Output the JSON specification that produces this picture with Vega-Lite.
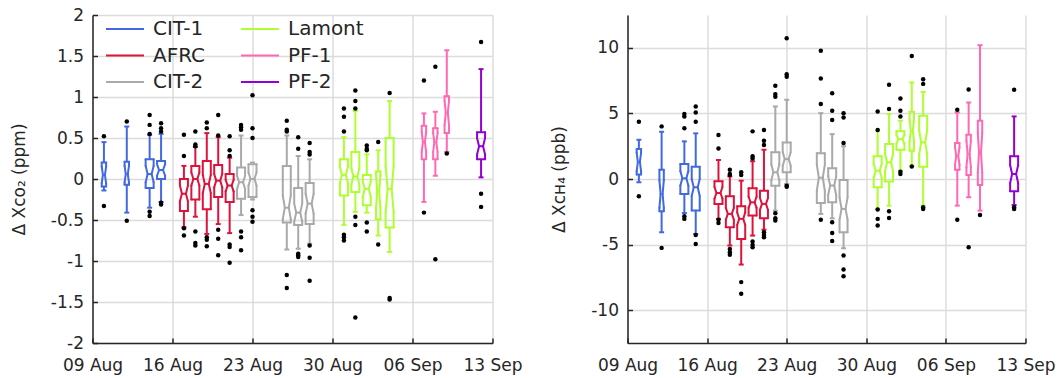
{
"$schema": "https://vega.github.io/schema/vega-lite/v6.json",
"padding": {"left": 9.5, "top": 6, "right": 5, "bottom": 4},
"spacing": 28,
"background": "white",
"config": {
  "view": {"stroke": null},
  "font": "DejaVu Sans",
  "axis": {"labelFont": "DejaVu Sans", "labelFontSize": 17, "labelColor": "#262626", "titleFont": "DejaVu Sans", "titleFontSize": 17, "titleFontWeight": "normal", "titleColor": "#262626", "domainColor": "#262626", "domainWidth": 1.5, "tickColor": "#262626", "tickSize": -5, "tickWidth": 1.5, "grid": true, "gridColor": "#dcdcdc", "gridWidth": 1.5},
  "axisX": {"labelPadding": 19},
  "axisY": {"labelPadding": 14, "titlePadding": 22},
  "rule": {"strokeWidth": 2}
},
"datasets": {
  "co2": [
    {"date":"2019-08-10T00:00","site":"CIT-1","n":14,"wlo":-0.14,"q1":-0.09,"nlo":-0.05,"med":0.05,"nhi":0.15,"q3":0.2,"whi":0.45},
    {"date":"2019-08-12T00:00","site":"CIT-1","n":16,"wlo":-0.41,"q1":-0.07,"nlo":-0.04,"med":0.06,"nhi":0.16,"q3":0.21,"whi":0.64},
    {"date":"2019-08-14T00:00","site":"CIT-1","n":60,"wlo":-0.35,"q1":-0.11,"nlo":-0.04,"med":0.06,"nhi":0.16,"q3":0.24,"whi":0.54},
    {"date":"2019-08-15T00:00","site":"CIT-1","n":55,"wlo":-0.28,"q1":0.0,"nlo":0.04,"med":0.11,"nhi":0.18,"q3":0.22,"whi":0.55},
    {"date":"2019-08-17T00:00","site":"AFRC","n":48,"wlo":-0.59,"q1":-0.39,"nlo":-0.27,"med":-0.18,"nhi":-0.08,"q3":0.0,"whi":0.16},
    {"date":"2019-08-18T00:00","site":"AFRC","n":70,"wlo":-0.46,"q1":-0.25,"nlo":-0.08,"med":0.0,"nhi":0.08,"q3":0.16,"whi":0.39},
    {"date":"2019-08-19T00:00","site":"AFRC","n":75,"wlo":-0.67,"q1":-0.37,"nlo":-0.17,"med":-0.06,"nhi":0.05,"q3":0.22,"whi":0.56},
    {"date":"2019-08-20T00:00","site":"AFRC","n":65,"wlo":-0.55,"q1":-0.22,"nlo":-0.1,"med":-0.02,"nhi":0.06,"q3":0.17,"whi":0.51},
    {"date":"2019-08-21T00:00","site":"AFRC","n":60,"wlo":-0.66,"q1":-0.28,"nlo":-0.15,"med":-0.08,"nhi":-0.01,"q3":0.06,"whi":0.26},
    {"date":"2019-08-22T00:00","site":"CIT-2","n":58,"wlo":-0.44,"q1":-0.24,"nlo":-0.12,"med":-0.04,"nhi":0.04,"q3":0.14,"whi":0.53},
    {"date":"2019-08-23T00:00","site":"CIT-2","n":62,"wlo":-0.25,"q1":-0.22,"nlo":-0.08,"med":0.0,"nhi":0.08,"q3":0.18,"whi":0.2},
    {"date":"2019-08-26T00:00","site":"CIT-2","n":66,"wlo":-0.86,"q1":-0.53,"nlo":-0.49,"med":-0.35,"nhi":-0.2,"q3":0.16,"whi":0.53},
    {"date":"2019-08-27T00:00","site":"CIT-2","n":52,"wlo":-0.85,"q1":-0.56,"nlo":-0.52,"med":-0.41,"nhi":-0.3,"q3":-0.11,"whi":0.28},
    {"date":"2019-08-28T00:00","site":"CIT-2","n":54,"wlo":-0.79,"q1":-0.55,"nlo":-0.42,"med":-0.3,"nhi":-0.18,"q3":-0.05,"whi":0.24},
    {"date":"2019-08-31T00:00","site":"Lamont","n":70,"wlo":-0.56,"q1":-0.2,"nlo":-0.05,"med":0.05,"nhi":0.15,"q3":0.24,"whi":0.51},
    {"date":"2019-09-01T00:00","site":"Lamont","n":72,"wlo":-0.4,"q1":-0.16,"nlo":-0.07,"med":0.03,"nhi":0.13,"q3":0.33,"whi":0.83},
    {"date":"2019-09-02T00:00","site":"Lamont","n":58,"wlo":-0.41,"q1":-0.32,"nlo":-0.22,"med":-0.12,"nhi":-0.03,"q3":0.05,"whi":0.3},
    {"date":"2019-09-03T00:00","site":"Lamont","n":18,"wlo":-0.69,"q1":-0.49,"nlo":-0.35,"med":-0.15,"nhi":0.05,"q3":0.09,"whi":0.35},
    {"date":"2019-09-04T00:00","site":"Lamont","n":40,"wlo":-0.89,"q1":-0.59,"nlo":-0.4,"med":-0.12,"nhi":0.15,"q3":0.5,"whi":0.95},
    {"date":"2019-09-07T00:00","site":"PF-1","n":20,"wlo":-0.28,"q1":0.24,"nlo":0.33,"med":0.45,"nhi":0.57,"q3":0.65,"whi":0.8},
    {"date":"2019-09-08T00:00","site":"PF-1","n":20,"wlo":0.04,"q1":0.24,"nlo":0.33,"med":0.45,"nhi":0.56,"q3":0.62,"whi":0.82},
    {"date":"2019-09-09T00:00","site":"PF-1","n":22,"wlo":0.33,"q1":0.56,"nlo":0.66,"med":0.81,"nhi":0.95,"q3":1.01,"whi":1.57},
    {"date":"2019-09-12T00:00","site":"PF-2","n":45,"wlo":0.02,"q1":0.24,"nlo":0.3,"med":0.4,"nhi":0.5,"q3":0.57,"whi":1.34}
  ],
  "co2_out": [
    {"date":"2019-08-10T00:00","value":0.52},{"date":"2019-08-10T00:00","value":-0.33},
    {"date":"2019-08-12T00:00","value":0.7},{"date":"2019-08-12T00:00","value":-0.51},
    {"date":"2019-08-14T00:00","value":0.78},{"date":"2019-08-14T00:00","value":0.66},{"date":"2019-08-14T00:00","value":0.55},{"date":"2019-08-14T00:00","value":-0.4},{"date":"2019-08-14T00:00","value":-0.45},
    {"date":"2019-08-15T00:00","value":0.68},{"date":"2019-08-15T00:00","value":0.62},{"date":"2019-08-15T00:00","value":0.58},{"date":"2019-08-15T00:00","value":-0.29},{"date":"2019-08-15T00:00","value":-0.31},
    {"date":"2019-08-17T00:00","value":0.54},{"date":"2019-08-17T00:00","value":0.28},{"date":"2019-08-17T00:00","value":-0.6},{"date":"2019-08-17T00:00","value":-0.69},
    {"date":"2019-08-18T00:00","value":0.58},{"date":"2019-08-18T00:00","value":0.42},{"date":"2019-08-18T00:00","value":0.4},{"date":"2019-08-18T00:00","value":-0.64},{"date":"2019-08-18T00:00","value":-0.78},{"date":"2019-08-18T00:00","value":-0.81},
    {"date":"2019-08-19T00:00","value":0.69},{"date":"2019-08-19T00:00","value":0.62},{"date":"2019-08-19T00:00","value":-0.71},{"date":"2019-08-19T00:00","value":-0.74},{"date":"2019-08-19T00:00","value":-0.82},
    {"date":"2019-08-20T00:00","value":0.78},{"date":"2019-08-20T00:00","value":0.53},{"date":"2019-08-20T00:00","value":-0.62},{"date":"2019-08-20T00:00","value":-0.73},{"date":"2019-08-20T00:00","value":-0.93},
    {"date":"2019-08-21T00:00","value":0.52},{"date":"2019-08-21T00:00","value":0.35},{"date":"2019-08-21T00:00","value":0.28},{"date":"2019-08-21T00:00","value":-0.8},{"date":"2019-08-21T00:00","value":-0.83},{"date":"2019-08-21T00:00","value":-1.02},
    {"date":"2019-08-22T00:00","value":0.66},{"date":"2019-08-22T00:00","value":0.63},{"date":"2019-08-22T00:00","value":0.6},{"date":"2019-08-22T00:00","value":-0.64},{"date":"2019-08-22T00:00","value":-0.71},{"date":"2019-08-22T00:00","value":-0.87},
    {"date":"2019-08-23T00:00","value":1.02},{"date":"2019-08-23T00:00","value":0.62},{"date":"2019-08-23T00:00","value":0.5},{"date":"2019-08-23T00:00","value":-0.38},{"date":"2019-08-23T00:00","value":-0.46},{"date":"2019-08-23T00:00","value":-0.52},
    {"date":"2019-08-26T00:00","value":0.71},{"date":"2019-08-26T00:00","value":0.6},{"date":"2019-08-26T00:00","value":0.58},{"date":"2019-08-26T00:00","value":-1.17},{"date":"2019-08-26T00:00","value":-1.33},
    {"date":"2019-08-27T00:00","value":0.51},{"date":"2019-08-27T00:00","value":0.37},{"date":"2019-08-27T00:00","value":-0.91},{"date":"2019-08-27T00:00","value":-0.93},{"date":"2019-08-27T00:00","value":-0.95},
    {"date":"2019-08-28T00:00","value":0.44},{"date":"2019-08-28T00:00","value":0.33},{"date":"2019-08-28T00:00","value":0.3},{"date":"2019-08-28T00:00","value":-0.81},{"date":"2019-08-28T00:00","value":-0.96},{"date":"2019-08-28T00:00","value":-1.24},
    {"date":"2019-08-31T00:00","value":0.86},{"date":"2019-08-31T00:00","value":0.76},{"date":"2019-08-31T00:00","value":0.58},{"date":"2019-08-31T00:00","value":-0.68},{"date":"2019-08-31T00:00","value":-0.71},{"date":"2019-08-31T00:00","value":-0.75},
    {"date":"2019-09-01T00:00","value":1.08},{"date":"2019-09-01T00:00","value":0.95},{"date":"2019-09-01T00:00","value":0.86},{"date":"2019-09-01T00:00","value":-0.46},{"date":"2019-09-01T00:00","value":-0.56},{"date":"2019-09-01T00:00","value":-1.69},
    {"date":"2019-09-02T00:00","value":0.41},{"date":"2019-09-02T00:00","value":0.37},{"date":"2019-09-02T00:00","value":0.35},{"date":"2019-09-02T00:00","value":-0.53},{"date":"2019-09-02T00:00","value":-0.64},
    {"date":"2019-09-03T00:00","value":0.45},{"date":"2019-09-03T00:00","value":-0.8},
    {"date":"2019-09-04T00:00","value":1.05},{"date":"2019-09-04T00:00","value":-1.45},{"date":"2019-09-04T00:00","value":-1.47},
    {"date":"2019-09-07T00:00","value":1.2},{"date":"2019-09-07T00:00","value":-0.41},
    {"date":"2019-09-08T00:00","value":1.37},{"date":"2019-09-08T00:00","value":-0.98},
    {"date":"2019-09-09T00:00","value":0.31},
    {"date":"2019-09-12T00:00","value":1.67},{"date":"2019-09-12T00:00","value":-0.18},{"date":"2019-09-12T00:00","value":-0.34}
  ],
  "ch4": [
    {"date":"2019-08-10T00:00","site":"CIT-1","n":14,"wlo":-0.25,"q1":0.35,"nlo":0.6,"med":1.3,"nhi":2.0,"q3":2.28,"whi":2.99},
    {"date":"2019-08-12T00:00","site":"CIT-1","n":16,"wlo":-4.06,"q1":-2.46,"nlo":-2.2,"med":-1.14,"nhi":-0.1,"q3":0.71,"whi":3.6},
    {"date":"2019-08-14T00:00","site":"CIT-1","n":60,"wlo":-2.59,"q1":-1.14,"nlo":-0.5,"med":0.05,"nhi":0.6,"q3":1.14,"whi":2.87},
    {"date":"2019-08-15T00:00","site":"CIT-1","n":55,"wlo":-4.19,"q1":-2.41,"nlo":-1.3,"med":-0.63,"nhi":0.0,"q3":0.94,"whi":3.48},
    {"date":"2019-08-17T00:00","site":"AFRC","n":48,"wlo":-3.04,"q1":-1.9,"nlo":-1.5,"med":-1.07,"nhi":-0.6,"q3":-0.18,"whi":1.45},
    {"date":"2019-08-18T00:00","site":"AFRC","n":70,"wlo":-5.07,"q1":-3.68,"nlo":-3.1,"med":-2.66,"nhi":-2.2,"q3":-1.32,"whi":0.2},
    {"date":"2019-08-19T00:00","site":"AFRC","n":75,"wlo":-6.52,"q1":-4.57,"nlo":-3.5,"med":-3.04,"nhi":-2.55,"q3":-2.08,"whi":-0.13},
    {"date":"2019-08-20T00:00","site":"AFRC","n":65,"wlo":-4.31,"q1":-2.79,"nlo":-2.2,"med":-1.78,"nhi":-1.35,"q3":-0.71,"whi":1.35},
    {"date":"2019-08-21T00:00","site":"AFRC","n":60,"wlo":-3.86,"q1":-2.99,"nlo":-2.35,"med":-1.9,"nhi":-1.45,"q3":-0.89,"whi":2.23},
    {"date":"2019-08-22T00:00","site":"CIT-2","n":58,"wlo":-2.41,"q1":-0.51,"nlo":-0.1,"med":0.51,"nhi":1.1,"q3":2.03,"whi":5.53},
    {"date":"2019-08-23T00:00","site":"CIT-2","n":62,"wlo":-0.38,"q1":0.51,"nlo":1.0,"med":1.52,"nhi":2.05,"q3":2.79,"whi":6.04},
    {"date":"2019-08-26T00:00","site":"CIT-2","n":66,"wlo":-2.66,"q1":-1.83,"nlo":-0.9,"med":0.1,"nhi":1.1,"q3":1.96,"whi":5.02},
    {"date":"2019-08-27T00:00","site":"CIT-2","n":52,"wlo":-3.0,"q1":-1.78,"nlo":-1.2,"med":-0.5,"nhi":0.2,"q3":0.81,"whi":3.42},
    {"date":"2019-08-28T00:00","site":"CIT-2","n":54,"wlo":-5.28,"q1":-4.06,"nlo":-3.1,"med":-2.28,"nhi":-1.4,"q3":-0.08,"whi":2.5},
    {"date":"2019-08-31T00:00","site":"Lamont","n":70,"wlo":-2.28,"q1":-0.63,"nlo":0.1,"med":0.63,"nhi":1.15,"q3":1.73,"whi":3.68},
    {"date":"2019-09-01T00:00","site":"Lamont","n":72,"wlo":-2.03,"q1":-0.2,"nlo":0.6,"med":1.27,"nhi":1.9,"q3":2.66,"whi":4.95},
    {"date":"2019-09-02T00:00","site":"Lamont","n":58,"wlo":0.63,"q1":2.23,"nlo":2.7,"med":3.04,"nhi":3.35,"q3":3.63,"whi":4.44},
    {"date":"2019-09-03T00:00","site":"Lamont","n":18,"wlo":1.01,"q1":2.15,"nlo":2.9,"med":3.68,"nhi":4.5,"q3":5.12,"whi":7.36},
    {"date":"2019-09-04T00:00","site":"Lamont","n":40,"wlo":-2.03,"q1":0.94,"nlo":1.9,"med":2.79,"nhi":3.7,"q3":4.82,"whi":6.64},
    {"date":"2019-09-07T00:00","site":"PF-1","n":20,"wlo":-2.03,"q1":0.71,"nlo":1.1,"med":1.77,"nhi":2.4,"q3":2.74,"whi":5.07},
    {"date":"2019-09-08T00:00","site":"PF-1","n":20,"wlo":-1.39,"q1":0.3,"nlo":0.9,"med":1.9,"nhi":2.9,"q3":3.37,"whi":5.83},
    {"date":"2019-09-09T00:00","site":"PF-1","n":22,"wlo":-2.41,"q1":-0.46,"nlo":0.5,"med":2.03,"nhi":3.5,"q3":4.44,"whi":10.2},
    {"date":"2019-09-12T00:00","site":"PF-2","n":45,"wlo":-1.98,"q1":-0.94,"nlo":-0.3,"med":0.38,"nhi":1.05,"q3":1.73,"whi":4.77}
  ],
  "ch4_out": [
    {"date":"2019-08-10T00:00","value":4.36},{"date":"2019-08-10T00:00","value":-1.32},
    {"date":"2019-08-12T00:00","value":4.01},{"date":"2019-08-12T00:00","value":-5.25},
    {"date":"2019-08-14T00:00","value":4.95},{"date":"2019-08-14T00:00","value":4.77},{"date":"2019-08-14T00:00","value":3.86},{"date":"2019-08-14T00:00","value":-2.84},{"date":"2019-08-14T00:00","value":-3.04},
    {"date":"2019-08-15T00:00","value":5.53},{"date":"2019-08-15T00:00","value":5.07},{"date":"2019-08-15T00:00","value":4.36},{"date":"2019-08-15T00:00","value":-4.26},{"date":"2019-08-15T00:00","value":-4.95},
    {"date":"2019-08-17T00:00","value":3.35},{"date":"2019-08-17T00:00","value":2.33},{"date":"2019-08-17T00:00","value":-3.1},{"date":"2019-08-17T00:00","value":-3.35},
    {"date":"2019-08-18T00:00","value":0.71},{"date":"2019-08-18T00:00","value":0.38},{"date":"2019-08-18T00:00","value":0.3},{"date":"2019-08-18T00:00","value":-5.33},{"date":"2019-08-18T00:00","value":-5.58},{"date":"2019-08-18T00:00","value":-5.78},
    {"date":"2019-08-19T00:00","value":0.51},{"date":"2019-08-19T00:00","value":0.3},{"date":"2019-08-19T00:00","value":-7.86},{"date":"2019-08-19T00:00","value":-8.75},
    {"date":"2019-08-20T00:00","value":3.63},{"date":"2019-08-20T00:00","value":1.73},{"date":"2019-08-20T00:00","value":1.57},{"date":"2019-08-20T00:00","value":-4.77},{"date":"2019-08-20T00:00","value":-5.02},{"date":"2019-08-20T00:00","value":-5.2},
    {"date":"2019-08-21T00:00","value":3.73},{"date":"2019-08-21T00:00","value":2.92},{"date":"2019-08-21T00:00","value":2.59},{"date":"2019-08-21T00:00","value":-4.06},{"date":"2019-08-21T00:00","value":-4.26},{"date":"2019-08-21T00:00","value":-4.44},
    {"date":"2019-08-22T00:00","value":7.1},{"date":"2019-08-22T00:00","value":6.47},{"date":"2019-08-22T00:00","value":6.27},{"date":"2019-08-22T00:00","value":-2.61},{"date":"2019-08-22T00:00","value":-2.99},{"date":"2019-08-22T00:00","value":-3.17},
    {"date":"2019-08-23T00:00","value":10.73},{"date":"2019-08-23T00:00","value":7.99},{"date":"2019-08-23T00:00","value":7.79},{"date":"2019-08-23T00:00","value":-0.51},{"date":"2019-08-23T00:00","value":-0.6},
    {"date":"2019-08-26T00:00","value":9.77},{"date":"2019-08-26T00:00","value":7.66},{"date":"2019-08-26T00:00","value":5.71},{"date":"2019-08-26T00:00","value":-3.1},
    {"date":"2019-08-27T00:00","value":6.54},{"date":"2019-08-27T00:00","value":5.2},{"date":"2019-08-27T00:00","value":4.49},{"date":"2019-08-27T00:00","value":-3.3},{"date":"2019-08-27T00:00","value":-4.11},{"date":"2019-08-27T00:00","value":-4.72},
    {"date":"2019-08-28T00:00","value":5.02},{"date":"2019-08-28T00:00","value":4.69},{"date":"2019-08-28T00:00","value":2.74},{"date":"2019-08-28T00:00","value":-5.83},{"date":"2019-08-28T00:00","value":-6.9},{"date":"2019-08-28T00:00","value":-7.41},
    {"date":"2019-08-31T00:00","value":5.15},{"date":"2019-08-31T00:00","value":3.73},{"date":"2019-08-31T00:00","value":-2.33},{"date":"2019-08-31T00:00","value":-3.04},{"date":"2019-08-31T00:00","value":-3.55},
    {"date":"2019-09-01T00:00","value":7.18},{"date":"2019-09-01T00:00","value":5.33},{"date":"2019-09-01T00:00","value":-2.46},{"date":"2019-09-01T00:00","value":-2.97},
    {"date":"2019-09-02T00:00","value":6.14},{"date":"2019-09-02T00:00","value":5.2},{"date":"2019-09-02T00:00","value":4.77},{"date":"2019-09-02T00:00","value":0.56},{"date":"2019-09-02T00:00","value":0.38},
    {"date":"2019-09-03T00:00","value":9.38},{"date":"2019-09-03T00:00","value":0.96},
    {"date":"2019-09-04T00:00","value":7.61},{"date":"2019-09-04T00:00","value":7.25},{"date":"2019-09-04T00:00","value":-2.16},{"date":"2019-09-04T00:00","value":-2.28},
    {"date":"2019-09-07T00:00","value":5.27},{"date":"2019-09-07T00:00","value":-3.1},
    {"date":"2019-09-08T00:00","value":6.82},{"date":"2019-09-08T00:00","value":-5.2},
    {"date":"2019-09-09T00:00","value":-2.74},
    {"date":"2019-09-12T00:00","value":6.8},{"date":"2019-09-12T00:00","value":-2.16},{"date":"2019-09-12T00:00","value":-2.28}
  ]
},
"resolve": {"scale": {"color": "independent"}, "legend": {"color": "independent"}},
"hconcat": [
  {
    "width": 400, "height": 328,
    "data": {"name": "co2"},
    "encoding": {
      "x": {"field": "date", "type": "temporal", "title": null,
        "scale": {"domain": [{"year": 2019, "month": "Aug", "date": 9}, {"year": 2019, "month": "Sep", "date": 13}]},
        "axis": {"values": [{"year": 2019, "month": "Aug", "date": 9}, {"year": 2019, "month": "Aug", "date": 16}, {"year": 2019, "month": "Aug", "date": 23}, {"year": 2019, "month": "Aug", "date": 30}, {"year": 2019, "month": "Sep", "date": 6}, {"year": 2019, "month": "Sep", "date": 13}], "format": "%d %b", "labelFlush": false, "labelOverlap": false}},
      "color": {"field": "site", "type": "nominal",
        "scale": {"domain": ["CIT-1", "AFRC", "CIT-2", "Lamont", "PF-1", "PF-2"], "range": ["#4169E1", "#DC143C", "#A9A9A9", "#ADFF2F", "#FF69B4", "#9400D3"]},
        "legend": {"orient": "none", "legendX": 12.5, "legendY": 2, "columns": 2, "title": null, "symbolType": "stroke", "symbolSize": 1444, "symbolStrokeWidth": 2.5, "labelFontSize": 20, "labelFont": "DejaVu Sans", "labelColor": "#262626", "labelOffset": 8, "columnPadding": 34, "rowPadding": 2.5, "clipHeight": 24, "padding": 0}}
    },
    "layer": [
      {"mark": {"type": "rule"}, "encoding": {"y": {"field": "wlo", "type": "quantitative", "scale": {"domain": [-2, 2], "nice": false, "zero": false}, "axis": {"values": [-2, -1.5, -1, -0.5, 0, 0.5, 1, 1.5, 2], "format": "~g", "labelExpr": "replace(datum.label, '\u2212', '-')", "title": "Δ Xᴄᴏ₂ (ppm)"}}, "y2": {"field": "q1"}}},
      {"mark": {"type": "rule"}, "encoding": {"y": {"field": "q3", "type": "quantitative"}, "y2": {"field": "whi"}}},
      {"mark": {"type": "rule", "xOffset": -2.5, "x2Offset": 2.5}, "encoding": {"x2": {"field": "date"}, "y": {"field": "wlo", "type": "quantitative"}}},
      {"mark": {"type": "rule", "xOffset": -2.5, "x2Offset": 2.5}, "encoding": {"x2": {"field": "date"}, "y": {"field": "whi", "type": "quantitative"}}},
      {"transform": [{"filter": "datum.n >= 25"}], "mark": {"type": "rule", "strokeCap": "round", "xOffset": -4, "x2Offset": 4}, "encoding": {"x2": {"field": "date"}, "y": {"field": "q1", "type": "quantitative"}}},
      {"transform": [{"filter": "datum.n >= 25"}], "mark": {"type": "rule", "strokeCap": "round", "xOffset": -4, "x2Offset": 4}, "encoding": {"x2": {"field": "date"}, "y": {"field": "q3", "type": "quantitative"}}},
      {"transform": [{"filter": "datum.n >= 25"}], "mark": {"type": "rule", "strokeCap": "round", "xOffset": -4, "x2Offset": -4}, "encoding": {"x2": {"field": "date"}, "y": {"field": "q1", "type": "quantitative"}, "y2": {"field": "nlo"}}},
      {"transform": [{"filter": "datum.n >= 25"}], "mark": {"type": "rule", "strokeCap": "round", "xOffset": -4, "x2Offset": -2}, "encoding": {"x2": {"field": "date"}, "y": {"field": "nlo", "type": "quantitative"}, "y2": {"field": "med"}}},
      {"transform": [{"filter": "datum.n >= 25"}], "mark": {"type": "rule", "strokeCap": "round", "xOffset": -2, "x2Offset": -4}, "encoding": {"x2": {"field": "date"}, "y": {"field": "med", "type": "quantitative"}, "y2": {"field": "nhi"}}},
      {"transform": [{"filter": "datum.n >= 25"}], "mark": {"type": "rule", "strokeCap": "round", "xOffset": -4, "x2Offset": -4}, "encoding": {"x2": {"field": "date"}, "y": {"field": "nhi", "type": "quantitative"}, "y2": {"field": "q3"}}},
      {"transform": [{"filter": "datum.n >= 25"}], "mark": {"type": "rule", "strokeCap": "round", "xOffset": 4, "x2Offset": 4}, "encoding": {"x2": {"field": "date"}, "y": {"field": "q1", "type": "quantitative"}, "y2": {"field": "nlo"}}},
      {"transform": [{"filter": "datum.n >= 25"}], "mark": {"type": "rule", "strokeCap": "round", "xOffset": 4, "x2Offset": 2}, "encoding": {"x2": {"field": "date"}, "y": {"field": "nlo", "type": "quantitative"}, "y2": {"field": "med"}}},
      {"transform": [{"filter": "datum.n >= 25"}], "mark": {"type": "rule", "strokeCap": "round", "xOffset": 2, "x2Offset": 4}, "encoding": {"x2": {"field": "date"}, "y": {"field": "med", "type": "quantitative"}, "y2": {"field": "nhi"}}},
      {"transform": [{"filter": "datum.n >= 25"}], "mark": {"type": "rule", "strokeCap": "round", "xOffset": 4, "x2Offset": 4}, "encoding": {"x2": {"field": "date"}, "y": {"field": "nhi", "type": "quantitative"}, "y2": {"field": "q3"}}},
      {"transform": [{"filter": "datum.n >= 25"}], "mark": {"type": "rule", "xOffset": -2, "x2Offset": 2}, "encoding": {"x2": {"field": "date"}, "y": {"field": "med", "type": "quantitative"}}},
      {"transform": [{"filter": "datum.n < 25"}], "mark": {"type": "rule", "strokeCap": "round", "xOffset": -2.2, "x2Offset": 2.2}, "encoding": {"x2": {"field": "date"}, "y": {"field": "q1", "type": "quantitative"}}},
      {"transform": [{"filter": "datum.n < 25"}], "mark": {"type": "rule", "strokeCap": "round", "xOffset": -2.2, "x2Offset": 2.2}, "encoding": {"x2": {"field": "date"}, "y": {"field": "q3", "type": "quantitative"}}},
      {"transform": [{"filter": "datum.n < 25"}], "mark": {"type": "rule", "strokeCap": "round", "xOffset": -2.2, "x2Offset": -2.2}, "encoding": {"x2": {"field": "date"}, "y": {"field": "q1", "type": "quantitative"}, "y2": {"field": "nlo"}}},
      {"transform": [{"filter": "datum.n < 25"}], "mark": {"type": "rule", "strokeCap": "round", "xOffset": -2.2, "x2Offset": -1}, "encoding": {"x2": {"field": "date"}, "y": {"field": "nlo", "type": "quantitative"}, "y2": {"field": "med"}}},
      {"transform": [{"filter": "datum.n < 25"}], "mark": {"type": "rule", "strokeCap": "round", "xOffset": -1, "x2Offset": -2.2}, "encoding": {"x2": {"field": "date"}, "y": {"field": "med", "type": "quantitative"}, "y2": {"field": "nhi"}}},
      {"transform": [{"filter": "datum.n < 25"}], "mark": {"type": "rule", "strokeCap": "round", "xOffset": -2.2, "x2Offset": -2.2}, "encoding": {"x2": {"field": "date"}, "y": {"field": "nhi", "type": "quantitative"}, "y2": {"field": "q3"}}},
      {"transform": [{"filter": "datum.n < 25"}], "mark": {"type": "rule", "strokeCap": "round", "xOffset": 2.2, "x2Offset": 2.2}, "encoding": {"x2": {"field": "date"}, "y": {"field": "q1", "type": "quantitative"}, "y2": {"field": "nlo"}}},
      {"transform": [{"filter": "datum.n < 25"}], "mark": {"type": "rule", "strokeCap": "round", "xOffset": 2.2, "x2Offset": 1}, "encoding": {"x2": {"field": "date"}, "y": {"field": "nlo", "type": "quantitative"}, "y2": {"field": "med"}}},
      {"transform": [{"filter": "datum.n < 25"}], "mark": {"type": "rule", "strokeCap": "round", "xOffset": 1, "x2Offset": 2.2}, "encoding": {"x2": {"field": "date"}, "y": {"field": "med", "type": "quantitative"}, "y2": {"field": "nhi"}}},
      {"transform": [{"filter": "datum.n < 25"}], "mark": {"type": "rule", "strokeCap": "round", "xOffset": 2.2, "x2Offset": 2.2}, "encoding": {"x2": {"field": "date"}, "y": {"field": "nhi", "type": "quantitative"}, "y2": {"field": "q3"}}},
      {"data": {"name": "co2_out"}, "mark": {"type": "circle", "size": 20, "opacity": 1}, "encoding": {"y": {"field": "value", "type": "quantitative"}, "color": {"value": "#000000"}}}
    ]
  },
  {
    "width": 398, "height": 328,
    "data": {"name": "ch4"},
    "encoding": {
      "x": {"field": "date", "type": "temporal", "title": null,
        "scale": {"domain": [{"year": 2019, "month": "Aug", "date": 9}, {"year": 2019, "month": "Sep", "date": 13}]},
        "axis": {"values": [{"year": 2019, "month": "Aug", "date": 9}, {"year": 2019, "month": "Aug", "date": 16}, {"year": 2019, "month": "Aug", "date": 23}, {"year": 2019, "month": "Aug", "date": 30}, {"year": 2019, "month": "Sep", "date": 6}, {"year": 2019, "month": "Sep", "date": 13}], "format": "%d %b", "labelFlush": false, "labelOverlap": false}},
      "color": {"field": "site", "type": "nominal",
        "scale": {"domain": ["CIT-1", "AFRC", "CIT-2", "Lamont", "PF-1", "PF-2"], "range": ["#4169E1", "#DC143C", "#A9A9A9", "#ADFF2F", "#FF69B4", "#9400D3"]},
        "legend": null}
    },
    "layer": [
      {"mark": {"type": "rule"}, "encoding": {"y": {"field": "wlo", "type": "quantitative", "scale": {"domain": [-12.5, 12.5], "nice": false, "zero": false}, "axis": {"values": [-10, -5, 0, 5, 10], "format": "~g", "labelExpr": "replace(datum.label, '\u2212', '-')", "title": "Δ Xᴄʜ₄ (ppb)"}}, "y2": {"field": "q1"}}},
      {"mark": {"type": "rule"}, "encoding": {"y": {"field": "q3", "type": "quantitative"}, "y2": {"field": "whi"}}},
      {"mark": {"type": "rule", "xOffset": -2.5, "x2Offset": 2.5}, "encoding": {"x2": {"field": "date"}, "y": {"field": "wlo", "type": "quantitative"}}},
      {"mark": {"type": "rule", "xOffset": -2.5, "x2Offset": 2.5}, "encoding": {"x2": {"field": "date"}, "y": {"field": "whi", "type": "quantitative"}}},
      {"transform": [{"filter": "datum.n >= 25"}], "mark": {"type": "rule", "strokeCap": "round", "xOffset": -4, "x2Offset": 4}, "encoding": {"x2": {"field": "date"}, "y": {"field": "q1", "type": "quantitative"}}},
      {"transform": [{"filter": "datum.n >= 25"}], "mark": {"type": "rule", "strokeCap": "round", "xOffset": -4, "x2Offset": 4}, "encoding": {"x2": {"field": "date"}, "y": {"field": "q3", "type": "quantitative"}}},
      {"transform": [{"filter": "datum.n >= 25"}], "mark": {"type": "rule", "strokeCap": "round", "xOffset": -4, "x2Offset": -4}, "encoding": {"x2": {"field": "date"}, "y": {"field": "q1", "type": "quantitative"}, "y2": {"field": "nlo"}}},
      {"transform": [{"filter": "datum.n >= 25"}], "mark": {"type": "rule", "strokeCap": "round", "xOffset": -4, "x2Offset": -2}, "encoding": {"x2": {"field": "date"}, "y": {"field": "nlo", "type": "quantitative"}, "y2": {"field": "med"}}},
      {"transform": [{"filter": "datum.n >= 25"}], "mark": {"type": "rule", "strokeCap": "round", "xOffset": -2, "x2Offset": -4}, "encoding": {"x2": {"field": "date"}, "y": {"field": "med", "type": "quantitative"}, "y2": {"field": "nhi"}}},
      {"transform": [{"filter": "datum.n >= 25"}], "mark": {"type": "rule", "strokeCap": "round", "xOffset": -4, "x2Offset": -4}, "encoding": {"x2": {"field": "date"}, "y": {"field": "nhi", "type": "quantitative"}, "y2": {"field": "q3"}}},
      {"transform": [{"filter": "datum.n >= 25"}], "mark": {"type": "rule", "strokeCap": "round", "xOffset": 4, "x2Offset": 4}, "encoding": {"x2": {"field": "date"}, "y": {"field": "q1", "type": "quantitative"}, "y2": {"field": "nlo"}}},
      {"transform": [{"filter": "datum.n >= 25"}], "mark": {"type": "rule", "strokeCap": "round", "xOffset": 4, "x2Offset": 2}, "encoding": {"x2": {"field": "date"}, "y": {"field": "nlo", "type": "quantitative"}, "y2": {"field": "med"}}},
      {"transform": [{"filter": "datum.n >= 25"}], "mark": {"type": "rule", "strokeCap": "round", "xOffset": 2, "x2Offset": 4}, "encoding": {"x2": {"field": "date"}, "y": {"field": "med", "type": "quantitative"}, "y2": {"field": "nhi"}}},
      {"transform": [{"filter": "datum.n >= 25"}], "mark": {"type": "rule", "strokeCap": "round", "xOffset": 4, "x2Offset": 4}, "encoding": {"x2": {"field": "date"}, "y": {"field": "nhi", "type": "quantitative"}, "y2": {"field": "q3"}}},
      {"transform": [{"filter": "datum.n >= 25"}], "mark": {"type": "rule", "xOffset": -2, "x2Offset": 2}, "encoding": {"x2": {"field": "date"}, "y": {"field": "med", "type": "quantitative"}}},
      {"transform": [{"filter": "datum.n < 25"}], "mark": {"type": "rule", "strokeCap": "round", "xOffset": -2.2, "x2Offset": 2.2}, "encoding": {"x2": {"field": "date"}, "y": {"field": "q1", "type": "quantitative"}}},
      {"transform": [{"filter": "datum.n < 25"}], "mark": {"type": "rule", "strokeCap": "round", "xOffset": -2.2, "x2Offset": 2.2}, "encoding": {"x2": {"field": "date"}, "y": {"field": "q3", "type": "quantitative"}}},
      {"transform": [{"filter": "datum.n < 25"}], "mark": {"type": "rule", "strokeCap": "round", "xOffset": -2.2, "x2Offset": -2.2}, "encoding": {"x2": {"field": "date"}, "y": {"field": "q1", "type": "quantitative"}, "y2": {"field": "nlo"}}},
      {"transform": [{"filter": "datum.n < 25"}], "mark": {"type": "rule", "strokeCap": "round", "xOffset": -2.2, "x2Offset": -1}, "encoding": {"x2": {"field": "date"}, "y": {"field": "nlo", "type": "quantitative"}, "y2": {"field": "med"}}},
      {"transform": [{"filter": "datum.n < 25"}], "mark": {"type": "rule", "strokeCap": "round", "xOffset": -1, "x2Offset": -2.2}, "encoding": {"x2": {"field": "date"}, "y": {"field": "med", "type": "quantitative"}, "y2": {"field": "nhi"}}},
      {"transform": [{"filter": "datum.n < 25"}], "mark": {"type": "rule", "strokeCap": "round", "xOffset": -2.2, "x2Offset": -2.2}, "encoding": {"x2": {"field": "date"}, "y": {"field": "nhi", "type": "quantitative"}, "y2": {"field": "q3"}}},
      {"transform": [{"filter": "datum.n < 25"}], "mark": {"type": "rule", "strokeCap": "round", "xOffset": 2.2, "x2Offset": 2.2}, "encoding": {"x2": {"field": "date"}, "y": {"field": "q1", "type": "quantitative"}, "y2": {"field": "nlo"}}},
      {"transform": [{"filter": "datum.n < 25"}], "mark": {"type": "rule", "strokeCap": "round", "xOffset": 2.2, "x2Offset": 1}, "encoding": {"x2": {"field": "date"}, "y": {"field": "nlo", "type": "quantitative"}, "y2": {"field": "med"}}},
      {"transform": [{"filter": "datum.n < 25"}], "mark": {"type": "rule", "strokeCap": "round", "xOffset": 1, "x2Offset": 2.2}, "encoding": {"x2": {"field": "date"}, "y": {"field": "med", "type": "quantitative"}, "y2": {"field": "nhi"}}},
      {"transform": [{"filter": "datum.n < 25"}], "mark": {"type": "rule", "strokeCap": "round", "xOffset": 2.2, "x2Offset": 2.2}, "encoding": {"x2": {"field": "date"}, "y": {"field": "nhi", "type": "quantitative"}, "y2": {"field": "q3"}}},
      {"data": {"name": "ch4_out"}, "mark": {"type": "circle", "size": 20, "opacity": 1}, "encoding": {"y": {"field": "value", "type": "quantitative"}, "color": {"value": "#000000"}}}
    ]
  }
]
}
